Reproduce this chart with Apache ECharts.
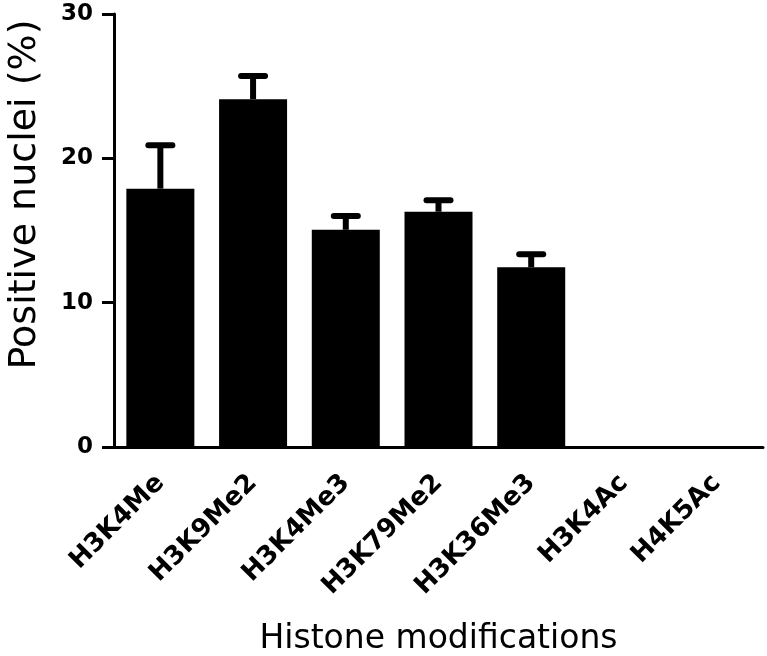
<!DOCTYPE html>
<html>
<head>
<meta charset="utf-8">
<script src="https://cdn.jsdelivr.net/npm/echarts@6/dist/echarts.min.js"></script>
<style>
  html, body { margin: 0; padding: 0; background: #fff; }
  #main { width: 767px; height: 656px; }
</style>
</head>
<body>
<div id="main"></div>
<script>
var categories = ['H3K4Me', 'H3K9Me2', 'H3K4Me3', 'H3K79Me2', 'H3K36Me3', 'H3K4Ac', 'H4K5Ac'];
var values = [17.9, 24.1, 15.05, 16.3, 12.45, 0, 0];
var errors = [3.0, 1.6, 0.95, 0.8, 0.9, 0, 0];
var yTicks = [0, 10, 20, 30];

var chart = echarts.init(document.getElementById('main'));

// [category index, mean, mean + sd]
var errData = values.map(function(v, i) {
  return [i, v, v + errors[i]];
});

var option = {
  animation: false,
  grid: {
    left: 114,
    right: 4,
    top: 14,
    bottom: 209,
    outerBoundsMode: 'none'
  },
  xAxis: {
    type: 'category',
    data: categories,
    name: 'Histone modifications',
    nameLocation: 'middle',
    nameGap: 176,
    nameTextStyle: {
      fontFamily: 'DejaVu Sans',
      fontSize: 33,
      color: '#000'
    },
    axisLine: { lineStyle: { color: '#000', width: 3 } },
    axisTick: { alignWithLabel: true, length: 12, lineStyle: { color: '#000', width: 3 } },
    axisLabel: {
      rotate: 45,
      margin: 32,
      color: '#000',
      fontFamily: 'DejaVu Sans',
      fontWeight: 'bold',
      fontSize: 26,
      interval: 0
    }
  },
  yAxis: {
    type: 'value',
    min: yTicks[0],
    max: yTicks[yTicks.length - 1],
    interval: 10,
    name: 'Positive nuclei (%)',
    nameLocation: 'middle',
    nameGap: 70,
    nameTextStyle: {
      fontFamily: 'DejaVu Sans',
      fontSize: 38,
      color: '#000',
      padding: [0, 0, 0, 72]
    },
    splitLine: { show: false },
    axisLine: { show: true, lineStyle: { color: '#000', width: 3 } },
    axisTick: { show: true, length: 12, lineStyle: { color: '#000', width: 3 } },
    axisLabel: {
      margin: 21,
      color: '#000',
      fontFamily: 'DejaVu Sans',
      fontWeight: 'bold',
      fontSize: 23
    }
  },
  series: [{
    type: 'bar',
    data: values,
    barWidth: 68,
    itemStyle: { color: '#000' }
  }, {
    type: 'custom',
    data: errData,
    renderItem: function(params, api) {
      if (api.value(2) <= api.value(1)) return null;
      var base = api.coord([api.value(0), api.value(1)]);
      var top = api.coord([api.value(0), api.value(2)]);
      return {
        type: 'group',
        children: [{
          type: 'line',
          shape: { x1: base[0], y1: base[1], x2: top[0], y2: top[1] },
          style: { stroke: '#000', lineWidth: 6 }
        }, {
          type: 'line',
          shape: { x1: top[0] - 12, y1: top[1], x2: top[0] + 12, y2: top[1] },
          style: { stroke: '#000', lineWidth: 6, lineCap: 'round' }
        }]
      };
    }
  }]
};

chart.setOption(option);
</script>
</body>
</html>
